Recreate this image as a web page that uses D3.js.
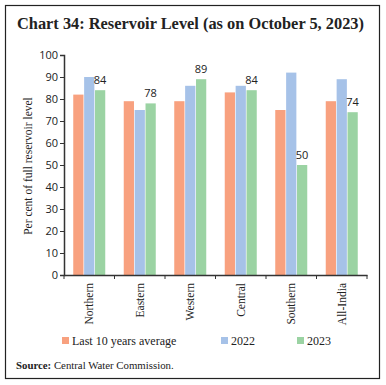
<!DOCTYPE html>
<html>
<head>
<meta charset="utf-8">
<script src="https://cdn.jsdelivr.net/npm/d3@7"></script>
<style>
  body { margin: 0; background: #fff; }
  svg text { fill: #222; }
</style>
</head>
<body>
<svg id="chart" width="386" height="385"></svg>
<script>
const regions = ["Northern", "Eastern", "Western", "Central", "Southern", "All-India"];
const seriesNames = ["Last 10 years average", "2022", "2023"];
const avg10 = [82, 79, 79, 83, 75, 79];
const y2022 = [90, 75, 86, 86, 92, 89];
const y2023 = [84, 78, 89, 84, 50, 74];
const yTicks = [0, 10, 20, 30, 40, 50, 60, 70, 80, 90, 100];
const colors = ["#f8a17f", "#a6c2e8", "#9bd3a3"];

const serif = "'Liberation Serif', 'DejaVu Serif', serif";
const sans = "'Open Sans', 'Noto Sans', sans-serif";

const svg = d3.select("#chart");

// frame
svg.append("rect")
  .attr("x", 5.5).attr("y", 5.5)
  .attr("width", 374).attr("height", 373)
  .attr("fill", "none").attr("stroke", "#222").attr("stroke-width", 1.2);

const title = svg.append("text")
  .attr("x", 17).attr("y", 29)
  .attr("font-family", serif).attr("font-size", 16).attr("font-weight", "bold")
  .attr("fill", "#1a1a2e")
  .text("Chart 34: Reservoir Level (as on October 5, 2023)");
// fit title to the width seen in the reference
const tw = title.node().getComputedTextLength();
title.attr("font-size", 16 * 347 / tw);

const x0 = d3.scaleBand().domain(regions).range([64, 367]).paddingInner(0).paddingOuter(0);
const x1 = d3.scaleBand().domain(seriesNames).range([0, 32]).paddingInner(0.06);
const y = d3.scaleLinear().domain([0, 100]).range([275, 55]);

const data = regions.map((r, i) => ({region: r, values: [avg10[i], y2022[i], y2023[i]]}));

const groups = svg.append("g").selectAll("g")
  .data(data)
  .join("g")
  .attr("transform", d => `translate(${x0(d.region) + (x0.bandwidth() - 32) / 2},0)`);

groups.selectAll("rect")
  .data(d => d.values.map((v, k) => ({name: seriesNames[k], value: v, k})))
  .join("rect")
  .attr("x", d => x1(d.name))
  .attr("y", d => y(d.value))
  .attr("width", x1.bandwidth())
  .attr("height", d => y(0) - y(d.value))
  .attr("fill", d => colors[d.k]);

// labels on 2023 bars
groups.append("text")
  .attr("x", x1("2023") + x1.bandwidth() / 2)
  .attr("y", d => y(d.values[2]) - 6)
  .attr("text-anchor", "middle")
  .attr("font-family", sans).attr("font-size", 11)
  .text(d => d.values[2]);

// y axis
const yAxis = svg.append("g")
  .attr("transform", "translate(64,0)")
  .call(d3.axisLeft(y).tickValues(yTicks).tickSize(4).tickPadding(2));
yAxis.select(".domain").attr("stroke", "#333").attr("stroke-width", 1.5);
yAxis.selectAll(".tick line").attr("stroke", "#333");
yAxis.selectAll("text").attr("font-family", sans).attr("font-size", 11).attr("fill", "#222");

// x axis
const xAxis = svg.append("g")
  .attr("transform", "translate(0,275)")
  .call(d3.axisBottom(x0).tickSize(0).tickFormat(""));
xAxis.select(".domain").attr("stroke", "#333").attr("stroke-width", 1.5);
xAxis.append("g").selectAll("line")
  .data(regions.concat(["end"]))
  .join("line")
  .attr("x1", (d, i) => i < regions.length ? x0(d) : x0.range()[1])
  .attr("x2", (d, i) => i < regions.length ? x0(d) : x0.range()[1])
  .attr("y1", 0).attr("y2", 4)
  .attr("stroke", "#333");

svg.append("g").selectAll("text")
  .data(regions)
  .join("text")
  .attr("transform", d => `translate(${x0(d) + x0.bandwidth() / 2 + 4},283) rotate(-90)`)
  .attr("text-anchor", "end")
  .attr("font-family", serif).attr("font-size", 11.5)
  .text(d => d);

// y title
svg.append("text")
  .attr("transform", "translate(32,166) rotate(-90)")
  .attr("text-anchor", "middle")
  .attr("font-family", serif).attr("font-size", 11.5)
  .text("Per cent of full reservoir level");

// legend
const legendX = [62, 221, 297];
const legend = svg.append("g").selectAll("g")
  .data(seriesNames)
  .join("g")
  .attr("transform", (d, i) => `translate(${legendX[i]},337)`);
legend.append("rect")
  .attr("width", 7).attr("height", 7)
  .attr("fill", (d, i) => colors[i]);
legend.append("text")
  .attr("x", 10).attr("y", 8)
  .attr("font-family", serif).attr("font-size", 12)
  .text(d => d);

// source
const src = svg.append("text")
  .attr("x", 16).attr("y", 369)
  .attr("font-family", serif).attr("font-size", 10.8);
src.append("tspan").attr("font-weight", "bold").text("Source:");
src.append("tspan").text(" Central Water Commission.");
</script>
</body>
</html>
